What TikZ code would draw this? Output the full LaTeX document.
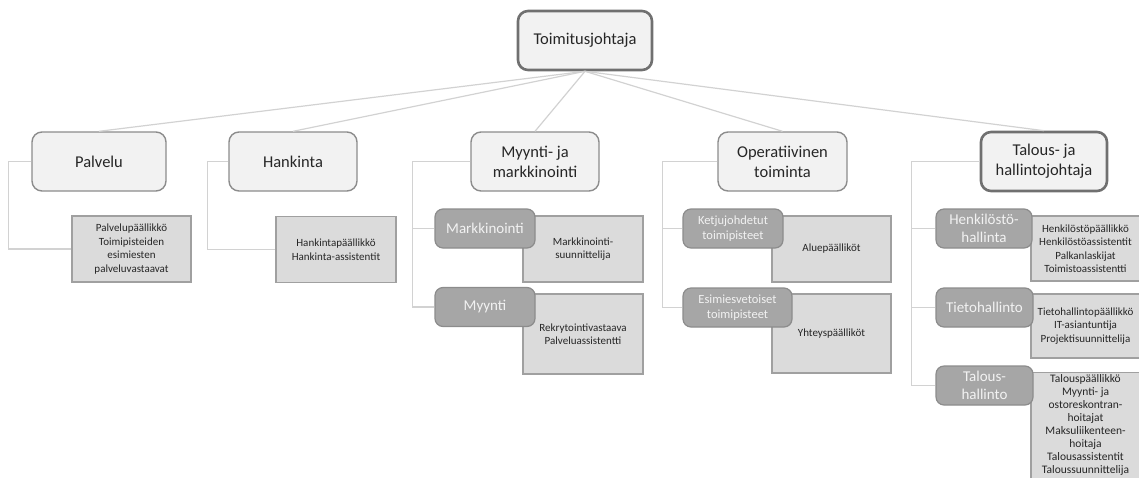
\documentclass[tikz,border=0pt]{standalone}
\usepackage{fontspec}
\setmainfont{Carlito}
\usepackage{xcolor}
\usepackage{tikz}
\usetikzlibrary{positioning}
\definecolor{boxfill}{HTML}{F2F2F2}
\definecolor{boxline}{HTML}{8C8C8C}
\definecolor{headline}{HTML}{707070}
\definecolor{teamfill}{HTML}{A6A6A6}
\definecolor{teamline}{HTML}{8C8C8C}
\definecolor{rolefill}{HTML}{DBDBDB}
\definecolor{roleline}{HTML}{A0A0A0}
\definecolor{linkgray}{HTML}{D2D2D2}
\definecolor{textgray}{HTML}{262626}
\tikzset{
  unitbox/.style={draw=boxline, line width=1.4pt, rounded corners=10pt, align=center, fill=boxfill, text=textgray, inner sep=2pt, minimum width=128pt, minimum height=59pt, font=\fontsize{16.5}{20}\selectfont},
  headbox/.style={unitbox, draw=headline, line width=2.6pt},
  teambox/.style={draw=teamline, line width=1.2pt, rounded corners=8pt, align=center, fill=teamfill, text=boxfill, inner sep=1pt, minimum width=100pt, minimum height=39pt, font=\fontsize{15}{18}\selectfont},
  smallteam/.style={teambox, font=\fontsize{12.5}{15.5}\selectfont},
  rolebox/.style={draw=roleline, line width=1.2pt, align=center, fill=rolefill, text=textgray, inner sep=1pt, minimum width=120pt, minimum height=66pt, font=\fontsize{11}{13.5}\selectfont},
  fanline/.style={draw=linkgray, line width=1.2pt},
  treeline/.style={draw=linkgray, line width=1.5pt}
}

\begin{document}
\begin{tikzpicture}[x=1pt, y=-1pt]
  \useasboundingbox (0,0) rectangle (1139,477);
  \clip (0,0) rectangle (1139,477);

  \node[headbox, minimum width=134pt] (ceo) at (585,40.5) {Toimitusjohtaja};

  \node[unitbox, minimum width=134pt] (palvelu) at (99,161.5) {Palvelu};
  \node[unitbox] (hankinta) at (293,161.5) {Hankinta};
  \node[unitbox] (myynti) at (535,161.5) {Myynti- ja\\markkinointi};
  \node[unitbox, minimum width=129pt] (operat) at (782.5,161.5) {Operatiivinen\\toiminta};
  \node[headbox, minimum width=126pt] (talous) at (1044,161.5) {Talous- ja\\hallintojohtaja};

  \node[rolebox, minimum width=119pt] (palvelubox) at (131.5,249) {Palvelupäällikkö\\Toimipisteiden\\esimiesten\\palveluvastaavat};
  \node[rolebox] (hankintabox) at (336,249.5) {Hankintapäällikkö\\Hankinta-assistentit};
  \node[rolebox] (markbox) at (583,249) {Markkinointi-\\suunnittelija};
  \node[rolebox, minimum height=80pt] (myyntibox) at (583,334) {Rekrytointivastaava\\Palveluassistentti};
  \node[rolebox, minimum width=119pt] (ketjubox) at (831.5,249) {Aluepäälliköt};
  \node[rolebox, minimum width=119pt, minimum height=79pt] (esimbox) at (831.5,333.5) {Yhteyspäälliköt};
  \node[rolebox, minimum width=109pt, minimum height=65pt] (henkbox) at (1085.5,248.5) {Henkilöstöpäällikkö\\Henkilöstöassistentit\\Palkanlaskijat\\Toimistoassistentti};
  \node[rolebox, minimum width=109pt, minimum height=64pt] (tietobox) at (1085.5,326) {Tietohallintopäällikkö\\IT-asiantuntija\\Projektisuunnittelija};
  % box runs on past the lower edge
  \node[rolebox, anchor=north, minimum width=109pt, minimum height=0pt, inner ysep=2pt, font=\fontsize{11.5}{13}\selectfont] (taloubox) at (1085.5,372) {Talouspäällikkö\\Myynti- ja\\ostoreskontran-\\hoitajat\\Maksuliikenteen-\\hoitaja\\Talousassistentit\\Taloussuunnittelija\rule[-12pt]{0pt}{12pt}};

  \node[teambox] (markkinointi) at (485,228.5) {Markkinointi};
  \node[teambox] (myyntiteam) at (485,307) {Myynti};
  \node[smallteam] (ketju) at (733,228.5) {Ketjujohdetut\\toimipisteet};
  \node[smallteam, minimum width=109pt] (esimies) at (737.5,307.5) {Esimiesvetoiset\\toimipisteet};
  \node[teambox, minimum width=96pt] (henkilosto) at (984,228.5) {Henkilöstö-\\hallinta};
  \node[teambox, minimum width=97pt] (tieto) at (984.5,307.5) {Tietohallinto};
  \node[teambox, minimum width=97pt] (taloushall) at (984.5,385.5) {Talous-\\hallinto};

  \draw[fanline] (ceo.south) -- (palvelu.north);
  \draw[fanline] (ceo.south) -- (hankinta.north);
  \draw[fanline] (ceo.south) -- (myynti.north);
  \draw[fanline] (ceo.south) -- (operat.north);
  \draw[fanline] (ceo.south) -- (talous.north);

  \draw[treeline] (palvelu.west) -- ++(-23,0) |- (palvelubox.west);
  \draw[treeline] (hankinta.west) -- ++(-21,0) |- (hankintabox.west);
  \draw[treeline] (myynti.west) -- ++(-58,0) |- (markkinointi.west);
  \draw[treeline] (myynti.west) -- ++(-58,0) |- (myyntiteam.west);
  \draw[treeline] (operat.west) -- ++(-55,0) |- (ketju.west);
  \draw[treeline] (operat.west) -- ++(-55,0) |- (esimies.west);
  \draw[treeline] (talous.west) -- ++(-68,0) |- (henkilosto.west);
  \draw[treeline] (talous.west) -- ++(-68,0) |- (tieto.west);
  \draw[treeline] (talous.west) -- ++(-68,0) |- (taloushall.west);
\end{tikzpicture}
\end{document}
